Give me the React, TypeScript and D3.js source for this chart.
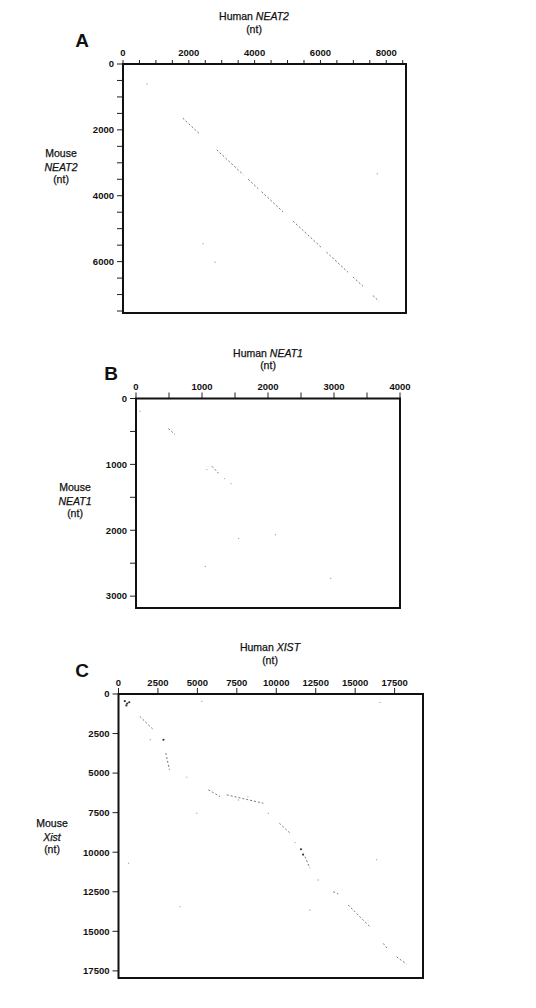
import React from 'react';
import * as d3 from 'd3';

// dot plots: human position (x) vs mouse position (y), in nt

// panel A, NEAT2
const neat2XTicks = d3.range(0, 8501, 500);
const neat2XLabels = [0, 2000, 4000, 6000, 8000];
const neat2YTicks = d3.range(0, 7501, 500);
const neat2YLabels = [0, 2000, 4000, 6000];
const neat2Segments = [
  [1818, 1646, 2342, 2136],
  [2848, 2606, 3655, 3360],
  [3806, 3500, 4109, 3784],
  [4210, 3878, 4866, 4490],
  [5169, 4772, 6029, 5572],
  [6181, 5712, 6838, 6324],
  [6989, 6466, 7292, 6748],
  [7595, 7030, 7777, 7202],
];
const neat2Dots = [[727, 606], [7727, 3333], [2433, 5454], [2797, 6020]];

// panel B, NEAT1
const neat1XTicks = d3.range(0, 4001, 500);
const neat1XLabels = [0, 1000, 2000, 3000, 4000];
const neat1YTicks = d3.range(0, 3001, 500);
const neat1YLabels = [0, 1000, 2000, 3000];
const neat1Segments = [
  [491, 456, 593, 547],
  [1150, 1029, 1251, 1135],
];
const neat1Dots = [
  [1074, 1079], [1342, 1216], [1439, 1292], [1555, 2124],
  [2113, 2067], [1049, 2549], [2949, 2731], [61, 193],
];

// panel C, XIST
const xistXTicks = [0, 2500, 5000, 7500, 10000, 12500, 15000, 17500];
const xistXLabels = xistXTicks;
const xistYTicks = [0, 2500, 5000, 7500, 10000, 12500, 15000, 17500];
const xistYLabels = xistYTicks;
const xistSegments = [
  [1350, 1414, 2216, 2260],
  [3000, 3735, 3228, 4792],
  [5697, 6058, 6437, 6479],
  [6860, 6375, 9178, 6902],
  [10197, 8166, 10875, 8799],
  [11818, 10280, 12135, 11014],
  [13612, 12495, 13928, 12642],
  [14561, 13338, 15934, 14710],
  [16776, 15762, 17092, 16142],
  [17622, 16611, 18255, 17073],
];
const xistDots = [
  [2007, 2893], [4330, 5254], [9495, 7533], [11185, 9392], [12663, 11755],
  [5280, 468], [16565, 532], [4963, 7533], [633, 10698], [16354, 10470],
  [3906, 13445], [12135, 13655], [8200, 6500], [7600, 6700],
];
const xistDarkDots = [
  [2850, 2893], [11565, 9814], [11700, 10150],
  [400, 450], [550, 600], [680, 520], [500, 720],
];

const FONT = 'Liberation Sans, Arial, sans-serif';

type PanelProps = {
  letter: string;
  gene: string;
  mouseGene: string;
  letterPos: [number, number];
  titleX: number;
  yLabelX: number;
  yLabelY: number;
  xRange: [number, number];
  yRange: [number, number];
  xDomain: [number, number];
  yDomain: [number, number];
  xTicks: number[];
  xLabels: number[];
  yTicks: number[];
  yLabels: number[];
  segments: number[][];
  dots: number[][];
  darkDots?: number[][];
  xTickLen: number;
  titleGap: number;
};

function Panel(p: PanelProps) {
  const x = d3.scaleLinear().domain(p.xDomain).range(p.xRange);
  const y = d3.scaleLinear().domain(p.yDomain).range(p.yRange);
  const top = p.yRange[0];
  const left = p.xRange[0];
  // scanned text looks a little heavier than plain regular
  const heavy = { stroke: '#111', strokeWidth: 0.25 };

  return (
    <g fontFamily={FONT} fill="#111">
      <text x={p.letterPos[0]} y={p.letterPos[1]} fontSize={19} fontWeight="bold" textAnchor="middle">
        {p.letter}
      </text>
      <text x={p.titleX} y={top - p.titleGap} fontSize={10.5} textAnchor="middle" {...heavy}>
        Human <tspan fontStyle="italic">{p.gene}</tspan>
      </text>
      <text x={p.titleX} y={top - p.titleGap + 12.5} fontSize={10.5} textAnchor="middle" {...heavy}>
        (nt)
      </text>

      <text x={p.yLabelX} y={p.yLabelY} fontSize={10.5} textAnchor="middle" {...heavy}>Mouse</text>
      <text x={p.yLabelX} y={p.yLabelY + 13.5} fontSize={10.5} textAnchor="middle" fontStyle="italic" {...heavy}>
        {p.mouseGene}
      </text>
      <text x={p.yLabelX} y={p.yLabelY + 26} fontSize={10.5} textAnchor="middle" {...heavy}>(nt)</text>

      {p.xTicks.map(t => (
        <line key={'xt' + t} x1={x(t)} x2={x(t)} y1={top} y2={top - p.xTickLen} stroke="#222" strokeWidth={1} />
      ))}
      {p.xLabels.map(t => (
        <text key={'xl' + t} x={x(t)} y={top - 8.5} fontSize={9.5} fontWeight="bold" textAnchor="middle">
          {t}
        </text>
      ))}
      {p.yTicks.map(t => (
        <line key={'yt' + t} x1={left} x2={left - 6} y1={y(t)} y2={y(t)} stroke="#222" strokeWidth={1} />
      ))}
      {p.yLabels.map(t => (
        <text key={'yl' + t} x={left - 9} y={y(t)} dy="0.35em" fontSize={9.5} fontWeight="bold" textAnchor="end">
          {t}
        </text>
      ))}

      {p.segments.map((s, i) => (
        <line key={'s' + i} x1={x(s[0])} y1={y(s[1])} x2={x(s[2])} y2={y(s[3])}
          stroke="#777" strokeWidth={1} strokeDasharray="2 2" />
      ))}
      {p.dots.map((d, i) => (
        <circle key={'d' + i} cx={x(d[0])} cy={y(d[1])} r={0.7} fill="#aaa" />
      ))}
      {(p.darkDots || []).map((d, i) => (
        <circle key={'dd' + i} cx={x(d[0])} cy={y(d[1])} r={1.1} fill="#333" />
      ))}

      <rect x={left} y={top} width={p.xRange[1] - left} height={p.yRange[1] - top}
        fill="none" stroke="#111" strokeWidth={2} />
    </g>
  );
}

export default function App() {
  return (
    <svg width={536} height={1008} style={{ position: 'absolute', left: 0, top: 0, background: '#fff' }}>
      <rect width={536} height={1008} fill="#fff" />
      <Panel
        letter="A" gene="NEAT2" mouseGene="NEAT2" letterPos={[82, 47]} titleX={254}
        yLabelX={61} yLabelY={157}
        xRange={[123, 406]} yRange={[64, 313]} xDomain={[0, 8600]} yDomain={[0, 7560]}
        xTicks={neat2XTicks} xLabels={neat2XLabels} yTicks={neat2YTicks} yLabels={neat2YLabels}
        segments={neat2Segments} dots={neat2Dots} xTickLen={4} titleGap={44}
      />
      <Panel
        letter="B" gene="NEAT1" mouseGene="NEAT1" letterPos={[111, 380]} titleX={268}
        yLabelX={75} yLabelY={491}
        xRange={[136, 400]} yRange={[398.5, 608]} xDomain={[0, 4000]} yDomain={[0, 3180]}
        xTicks={neat1XTicks} xLabels={neat1XLabels} yTicks={neat1YTicks} yLabels={neat1YLabels}
        segments={neat1Segments} dots={neat1Dots} xTickLen={6} titleGap={42}
      />
      <Panel
        letter="C" gene="XIST" mouseGene="Xist" letterPos={[82, 677]} titleX={270}
        yLabelX={52} yLabelY={827}
        xRange={[118.5, 423]} yRange={[694, 978]} xDomain={[0, 19300]} yDomain={[0, 17950]}
        xTicks={xistXTicks} xLabels={xistXLabels} yTicks={xistYTicks} yLabels={xistYLabels}
        segments={xistSegments} dots={xistDots} darkDots={xistDarkDots} xTickLen={6} titleGap={43}
      />
    </svg>
  );
}
